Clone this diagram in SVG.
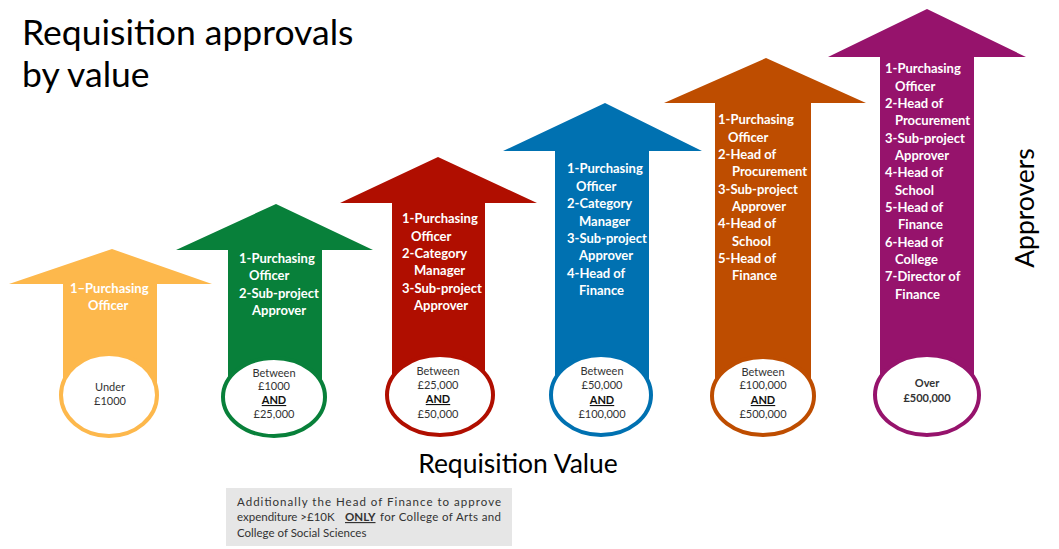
<svg xmlns="http://www.w3.org/2000/svg" width="1059" height="549" viewBox="0 0 1059 549">
<style>
.lbl{font-family:Lato,"Liberation Sans",sans-serif;font-weight:bold;font-size:13px;fill:#fff}
.val{font-family:Lato,"Liberation Sans",sans-serif;font-size:11px;fill:#333;text-anchor:middle}
.and{font-weight:bold;fill:#111;text-decoration:underline}
.big{font-family:Lato,"Liberation Sans",sans-serif;fill:#000}
.note{font-family:Lato,"Liberation Sans",sans-serif;font-size:11.5px;fill:#333}
ellipse{fill:#fff;stroke-width:4}
</style>
<rect width="1059" height="549" fill="#fff"/>
<text class="big" x="22" y="45" font-size="35.5">Requisition approvals</text>
<text class="big" x="22" y="87" font-size="35.5">by value</text>

<g id="arrow1">
<polygon points="112,249 212,284 157,284 157,395 63,395 63,284 9,284" fill="#FDB84C"/>
<ellipse cx="109" cy="395" rx="48" ry="41" stroke="#FDB84C"/>
<text class="lbl" x="70" y="293">1–Purchasing</text>
<text class="lbl" x="88" y="310">Officer</text>
<text class="val" x="110" y="391">Under</text>
<text class="val" x="110" y="405">£1000</text>
</g>

<g id="arrow2">
<polygon points="276,204 373,250 322,250 322,397 228,397 228,250 176,250" fill="#08803A"/>
<ellipse cx="274" cy="397" rx="51" ry="39" stroke="#08803A"/>
<text class="lbl" x="239" y="263">1-Purchasing</text>
<text class="lbl" x="249" y="280">Officer</text>
<text class="lbl" x="239" y="298">2-Sub-project</text>
<text class="lbl" x="252" y="315">Approver</text>
<text class="val" x="274" y="377">Between</text>
<text class="val" x="274" y="390">£1000</text>
<text class="val and" x="274" y="404">AND</text>
<text class="val" x="274" y="418">£25,000</text>
</g>

<g id="arrow3">
<polygon points="438,157 537,203 485,203 485,395 392,395 392,203 340,203" fill="#B00E00"/>
<ellipse cx="440" cy="395" rx="53" ry="40" stroke="#B00E00"/>
<text class="lbl" x="402" y="223">1-Purchasing</text>
<text class="lbl" x="411" y="241">Officer</text>
<text class="lbl" x="402" y="258">2-Category</text>
<text class="lbl" x="414" y="275">Manager</text>
<text class="lbl" x="402" y="293">3-Sub-project</text>
<text class="lbl" x="414" y="310">Approver</text>
<text class="val" x="438" y="375">Between</text>
<text class="val" x="438" y="389">£25,000</text>
<text class="val and" x="438" y="403">AND</text>
<text class="val" x="438" y="418">£50,000</text>
</g>

<g id="arrow4">
<polygon points="605,103 702,151 649,151 649,395 555,395 555,151 503,151" fill="#0071B1"/>
<ellipse cx="601" cy="395" rx="50" ry="40" stroke="#0071B1"/>
<text class="lbl" x="567" y="173">1-Purchasing</text>
<text class="lbl" x="576" y="191">Officer</text>
<text class="lbl" x="567" y="208">2-Category</text>
<text class="lbl" x="579" y="226">Manager</text>
<text class="lbl" x="567" y="243">3-Sub-project</text>
<text class="lbl" x="579" y="260">Approver</text>
<text class="lbl" x="567" y="278">4-Head of</text>
<text class="lbl" x="579" y="295">Finance</text>
<text class="val" x="602" y="375">Between</text>
<text class="val" x="602" y="389">£50,000</text>
<text class="val and" x="602" y="404">AND</text>
<text class="val" x="602" y="418">£100,000</text>
</g>

<g id="arrow5">
<polygon points="766,58 866,103 811,103 811,395 715,395 715,103 664,103" fill="#BE4D00"/>
<ellipse cx="763" cy="396" rx="51" ry="39" stroke="#BE4D00"/>
<text class="lbl" x="718" y="124">1-Purchasing</text>
<text class="lbl" x="728" y="142">Officer</text>
<text class="lbl" x="718" y="159">2-Head of</text>
<text class="lbl" x="732" y="176">Procurement</text>
<text class="lbl" x="718" y="194">3-Sub-project</text>
<text class="lbl" x="732" y="211">Approver</text>
<text class="lbl" x="718" y="228">4-Head of</text>
<text class="lbl" x="732" y="246">School</text>
<text class="lbl" x="718" y="263">5-Head of</text>
<text class="lbl" x="732" y="280">Finance</text>
<text class="val" x="763" y="376">Between</text>
<text class="val" x="763" y="389">£100,000</text>
<text class="val and" x="763" y="404">AND</text>
<text class="val" x="763" y="418">£500,000</text>
</g>

<g id="arrow6">
<polygon points="927,9 1026,57 974,57 974,395 880,395 880,57 828,57" fill="#96136C"/>
<ellipse cx="927" cy="395" rx="52" ry="40" stroke="#96136C"/>
<text class="lbl" x="885" y="73">1-Purchasing</text>
<text class="lbl" x="895" y="91">Officer</text>
<text class="lbl" x="885" y="108">2-Head of</text>
<text class="lbl" x="895" y="125">Procurement</text>
<text class="lbl" x="885" y="143">3-Sub-project</text>
<text class="lbl" x="895" y="160">Approver</text>
<text class="lbl" x="885" y="177">4-Head of</text>
<text class="lbl" x="895" y="195">School</text>
<text class="lbl" x="885" y="212">5-Head of</text>
<text class="lbl" x="898" y="229">Finance</text>
<text class="lbl" x="885" y="247">6-Head of</text>
<text class="lbl" x="895" y="264">College</text>
<text class="lbl" x="885" y="281">7-Director of</text>
<text class="lbl" x="895" y="299">Finance</text>
<text class="val" x="927" y="387" font-weight="bold" fill="#111">Over</text>
<text class="val" x="927" y="402" font-weight="bold" fill="#111">£500,000</text>
</g>

<text class="big" x="518" y="473" font-size="26.5" text-anchor="middle">Requisition Value</text>
<text class="big" x="0" y="0" font-size="26.5" text-anchor="middle" transform="translate(1034,208) rotate(-90)">Approvers</text>

<g id="note">
<rect x="226" y="488" width="286" height="58" fill="#E6E6E6"/>
<text class="note" x="237" y="506" textLength="264" lengthAdjust="spacing">Additionally the Head of Finance to  approve</text>
<text class="note" x="237" y="521">expenditure &gt;£10K</text>
<text class="note" x="345" y="521" font-weight="bold" fill="#111" text-decoration="underline">ONLY</text>
<text class="note" x="380" y="521" textLength="121" lengthAdjust="spacing">for College of Arts and</text>
<text class="note" x="237" y="537">College of Social Sciences</text>
</g>
</svg>
